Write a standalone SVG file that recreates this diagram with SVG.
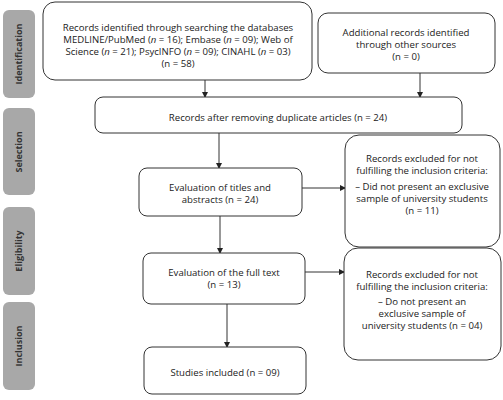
<svg xmlns="http://www.w3.org/2000/svg" width="503" height="400" viewBox="0 0 503 400">
<style>
.box{fill:#fff;stroke:#333;stroke-width:1}
.side{fill:#a8a8a8}
.st{font-family:"Open Sans","Liberation Sans",sans-serif;font-size:9px;font-weight:bold;fill:#333;text-anchor:middle}
.t{font-family:"Open Sans","Liberation Sans",sans-serif;font-size:9.6px;fill:#222;text-anchor:middle}
.c{stroke:#333;stroke-width:1;fill:none;marker-end:url(#a)}
</style>
<defs>
<marker id="a" markerWidth="6" markerHeight="6" refX="5" refY="3" orient="auto" markerUnits="userSpaceOnUse">
<path d="M0,0 L6,3 L0,6 Z" fill="#222"/>
</marker>
</defs>
<rect width="503" height="400" fill="#fff"/>
<g id="side-identification"><rect class="side" x="3" y="10" width="32" height="88" rx="6"/><text class="st" transform="translate(22,54) rotate(-90)">Identification</text></g>
<g id="side-selection"><rect class="side" x="3" y="108" width="32" height="87" rx="6"/><text class="st" transform="translate(22,152) rotate(-90)">Selection</text></g>
<g id="side-eligibility"><rect class="side" x="3" y="207" width="32" height="88" rx="6"/><text class="st" transform="translate(22,251) rotate(-90)">Eligibility</text></g>
<g id="side-inclusion"><rect class="side" x="3" y="302" width="32" height="88" rx="6"/><text class="st" transform="translate(22,346) rotate(-90)">Inclusion</text></g>

<g id="connectors">
<line class="c" x1="205" y1="80" x2="205" y2="97"/>
<line class="c" x1="420" y1="73" x2="420" y2="97"/>
<line class="c" x1="219" y1="133" x2="219" y2="168"/>
<line class="c" x1="302" y1="188" x2="345" y2="188"/>
<line class="c" x1="220" y1="216" x2="220" y2="253"/>
<line class="c" x1="305" y1="272" x2="344" y2="272"/>
<line class="c" x1="227" y1="304" x2="227" y2="347"/>
</g>

<g id="n1"><rect class="box" x="43" y="2" width="269" height="78" rx="12"/>
<text class="t" x="178" y="31">Records identified through searching the databases</text>
<text class="t" x="178" y="43">MEDLINE/PubMed (<tspan font-style="italic">n</tspan> = 16); Embase (<tspan font-style="italic">n</tspan> = 09); Web of</text>
<text class="t" x="178" y="55">Science (<tspan font-style="italic">n</tspan> = 21); PsycINFO (<tspan font-style="italic">n</tspan> = 09); CINAHL (<tspan font-style="italic">n</tspan> = 03)</text>
<text class="t" x="178" y="67">(n = 58)</text></g>

<g id="n2"><rect class="box" x="318" y="13" width="177" height="60" rx="10"/>
<text class="t" x="406" y="36">Additional records identified</text>
<text class="t" x="406" y="48">through other sources</text>
<text class="t" x="406" y="60">(n = 0)</text></g>

<g id="n3"><rect class="box" x="95" y="97" width="367" height="36" rx="8"/>
<text class="t" x="278" y="121">Records after removing duplicate articles (n = 24)</text></g>

<g id="n4"><rect class="box" x="139" y="168" width="163" height="48" rx="8"/>
<text class="t" x="220" y="191">Evaluation of titles and</text>
<text class="t" x="220" y="203">abstracts (n = 24)</text></g>

<g id="n5"><rect class="box" x="345" y="135" width="155" height="112" rx="14"/>
<text class="t" x="422" y="162">Records excluded for not</text>
<text class="t" x="422" y="174">fulfilling the inclusion criteria:</text>
<text class="t" x="422" y="190">– Did not present an exclusive</text>
<text class="t" x="422" y="202">sample of university students</text>
<text class="t" x="422" y="214">(n = 11)</text></g>

<g id="n6"><rect class="box" x="143" y="253" width="162" height="51" rx="8"/>
<text class="t" x="224" y="276">Evaluation of the full text</text>
<text class="t" x="224" y="288">(n = 13)</text></g>

<g id="n7"><rect class="box" x="344" y="248" width="157" height="112" rx="14"/>
<text class="t" x="422" y="278">Records excluded for not</text>
<text class="t" x="422" y="290">fulfilling the inclusion criteria:</text>
<text class="t" x="422" y="305">– Do not present an</text>
<text class="t" x="422" y="317">exclusive sample of</text>
<text class="t" x="422" y="329">university students (n = 04)</text></g>

<g id="n8"><rect class="box" x="144" y="347" width="162" height="47" rx="8"/>
<text class="t" x="225" y="376">Studies included (n = 09)</text></g>
</svg>
